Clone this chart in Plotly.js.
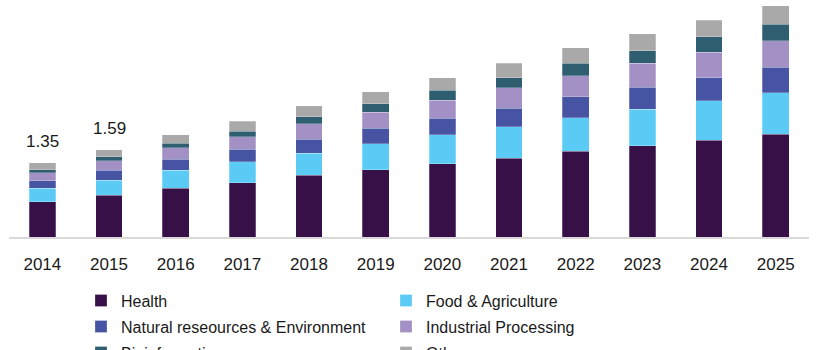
<!DOCTYPE html>
<html>
<head>
<meta charset="utf-8">
<script src="https://cdn.plot.ly/plotly-3.0.1.min.js"></script>
<style>html,body{margin:0;padding:0;background:#fff;}#chart{width:820px;height:350px;}</style>
</head>
<body>
<div id="chart"></div>
<script>
const years = ['2014','2015','2016','2017','2018','2019','2020','2021','2022','2023','2024','2025'];
const health      = [0.64, 0.76, 0.885, 0.99, 1.12, 1.22, 1.33, 1.43, 1.56, 1.66, 1.76, 1.865];
const foodAgri    = [0.25, 0.27, 0.33, 0.38, 0.405, 0.48, 0.53, 0.575, 0.61, 0.66, 0.715, 0.76];
const naturalEnv  = [0.13, 0.18, 0.20, 0.23, 0.255, 0.28, 0.30, 0.335, 0.38, 0.40, 0.425, 0.46];
const industrial  = [0.15, 0.18, 0.21, 0.225, 0.28, 0.285, 0.33, 0.375, 0.38, 0.44, 0.455, 0.48];
const bioinfo     = [0.05, 0.07, 0.08, 0.10, 0.13, 0.155, 0.18, 0.18, 0.23, 0.225, 0.285, 0.30];
const others      = [0.13, 0.13, 0.15, 0.18, 0.20, 0.22, 0.225, 0.26, 0.28, 0.315, 0.305, 0.34];
const seriesNames = ['Health','Food & Agriculture','Natural reseources & Environment','Industrial Processing','Bioinformatics','Others'];
const labelYears = ['2014','2015'];
const labelTexts = ['1.35','1.59'];

const colors = ['#371047','#5BCBF5','#4654A3','#A390C4','#2E5E70','#A9A9A9'];
const seriesData = [health, foodAgri, naturalEnv, industrial, bioinfo, others];

const traces = seriesData.map((vals, i) => ({
  type: 'bar', name: '<span style="font-size:16px">' + seriesNames[i].replace('&', '&amp;') + '</span>',
  x: years, y: vals,
  marker: {color: colors[i], line: {color: 'rgba(255,255,255,0.5)', width: 0.5}},
  hoverinfo: 'x+y'
}));

const totals = years.map((_, j) => seriesData.reduce((s, arr) => s + arr[j], 0));
const annotations = labelYears.map((yr, k) => {
  const idx = years.indexOf(yr);
  return {
    x: idx, y: totals[idx], xref: 'x', yref: 'y',
    text: labelTexts[k], showarrow: false, yanchor: 'bottom', yshift: 10,
    font: {family: 'Liberation Sans, Arial, sans-serif', size: 17, color: '#1a1a1a'}
  };
});

const layout = {
  width: 820, height: 350,
  margin: {l: 9, r: 11, t: 5, b: 113, autoexpand: false},
  paper_bgcolor: '#fff', plot_bgcolor: '#fff',
  barmode: 'stack', bargap: 0.6,
  font: {family: 'Liberation Sans, Arial, sans-serif', color: '#1a1a1a'},
  xaxis: {
    type: 'category', range: [-0.5, years.length - 0.5], autorange: false,
    showline: true, linecolor: '#d9d9d9', linewidth: 1.5,
    ticks: '', ticklabelstandoff: 11, tickfont: {size: 17, color: '#1a1a1a'},
    showgrid: false, zeroline: false, fixedrange: true
  },
  yaxis: {
    range: [0, 232/55], autorange: false, showgrid: false, zeroline: false, showline: false,
    showticklabels: false, ticks: '', fixedrange: true
  },
  showlegend: true,
  legend: {
    orientation: 'h', x: 0.09, xanchor: 'left', y: -0.196, yanchor: 'top',
    entrywidth: 260, entrywidthmode: 'pixels', traceorder: 'normal',
    font: {size: 17.7, color: '#1a1a1a'}, bgcolor: 'rgba(0,0,0,0)', borderwidth: 0
  },
  annotations: annotations
};

Plotly.newPlot('chart', traces, layout, {displayModeBar: false, staticPlot: true});
</script>
</body>
</html>
